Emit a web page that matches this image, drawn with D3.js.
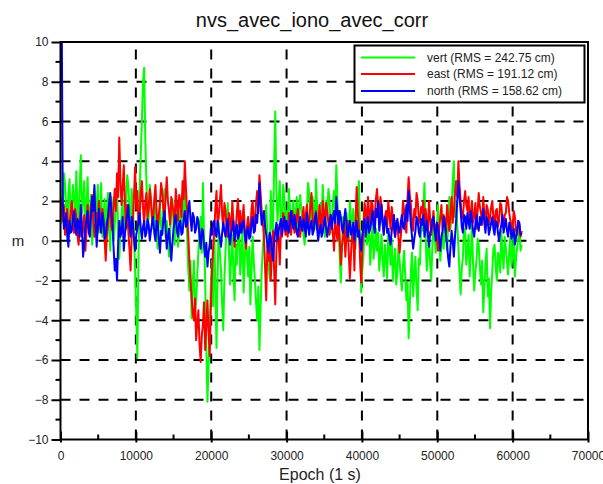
<!DOCTYPE html>
<html lang="fr">
<head>
<meta charset="UTF-8">
<title>nvs_avec_iono_avec_corr</title>
<script src="https://d3js.org/d3.v7.min.js"></script>
<style>
  body { margin: 0; background: #fff; }
  svg { display: block; font-family: "Liberation Sans", Arial, sans-serif; }
</style>
</head>
<body>
<div id="chart"></div>
<script>
// epochs sampled every 150 s, 0 .. 61200
const epochs = d3.range(0, 61201, 150);

const vert = [
  2.6, 0.9, 1.2, 3.4, 2.9, 1.6, 0.8, 2.4, 3.1, 0.6, 1.5, 2.8, 2.2, 0.9, 3.5, 1.8, 1.0, 2.7, 4.3, 1.4,
  2.0, 3.0, 0.5, 1.7, 3.2, 0.6, 1.4, 2.3, -0.2, 1.0, 2.6, 0.9, 1.8, 2.8, 0.4, 1.3, 2.9, 0.2, 1.1, 2.1,
  0.2, 1.5, 2.4, 0.7, -0.5, 2.2, 1.6, 0.0, 0.8, 1.9, 2.7, 0.4, -0.9, 0.6, 1.2, 2.1, 0.1, 1.0, 2.0, 3.3,
  2.8, 1.4, 0.5, 2.6, 1.9, 0.2, -1.5, -3.6, -5.9, -0.8, 2.5, 4.3, 6.0, 8.0, 8.7, 5.1, 3.0, 0.6, 1.2, 2.8,
  2.2, 1.1, 0.6, 2.0, 1.5, 0.4, -0.4, 0.9, 1.8, 0.7, 0.3, 1.7, 2.6, 0.2, 1.0, 0.1, -0.8, 0.5, 1.4, 2.1,
  0.8, -0.2, 2.0, 0.9, -0.3, 0.6, 1.5, 0.5, 2.4, 1.2, 3.2, 1.6, 0.4, -1.4, -2.5, -1.0, -3.9, -2.2, -1.0, -3.6,
  -3.0, -1.8, -0.5, 0.4, 1.2, -0.6, 2.9, 0.2, -2.0, -5.2, -8.1, -6.3, -4.5, -2.2, -1.0, -3.3, 0.5, -2.4, -5.4, -1.8,
  0.9, -0.6, -1.5, -3.2, -4.5, -1.9, -0.5, 0.8, 1.9, -0.4, -2.2, -0.9, 0.3, -1.6, -3.0, -0.2, -1.2, 0.4, 1.0, -1.7,
  -0.8, 0.6, -2.6, -1.0, 0.4, -0.7, -1.8, -0.3, -3.2, -1.4, 0.2, -1.1, -2.0, -3.1, -4.0, -2.3, -5.5, -3.4, -1.5, -0.4,
  0.5, 1.2, 1.8, 0.3, -1.0, -1.9, 2.5, 1.0, 0.2, 3.8, 6.5, 2.4, 1.0, 2.1, 3.0, 0.4, 0.8, 2.8, 2.2, 0.7,
  1.5, 0.8, 2.6, 1.7, 0.6, 1.4, 2.0, 0.7, 1.2, 2.2, 0.4, 1.5, 2.3, 1.6, 1.0, 0.3, -0.2, 0.9, 1.6, 2.9,
  2.4, 1.3, 0.9, 2.2, 1.7, 0.6, 3.1, 1.8, 0.5, 1.1, 1.9, 0.8, 2.8, 1.5, 0.2, 2.0, 1.3, 2.6, 2.1, 0.4,
  1.0, 1.9, 2.5, 1.3, 3.8, 2.0, 0.6, -0.8, -2.1, -0.3, 1.2, 0.2, -0.5, 1.4, 0.8, 0.0, 2.0, 1.1, 0.3, 1.6,
  0.5, -0.4, 1.4, 2.1, 3.0, 0.2, -2.6, -1.5, -0.8, 0.9, 1.5, -0.2, 0.2, 0.9, -1.2, -0.1, 0.8, -0.9, -0.3, 0.6,
  -0.5, 0.4, -1.5, -0.6, 0.3, -1.0, -1.8, -0.2, -0.9, -1.9, 0.6, -0.3, -1.2, 0.1, -2.0, -1.1, -0.4, -2.2, -1.6, -0.2,
  -1.0, -1.9, -2.5, -1.2, -0.5, -1.8, -3.0, -2.1, -4.9, -3.3, -1.5, -0.6, -2.8, -1.7, -0.8, -2.4, -3.5, -0.9, -1.2, 0.8,
  0.5, 1.6, 2.9, 0.4, -1.5, -0.6, 0.2, -1.1, -2.0, -0.2, 1.0, 0.1, -0.6, 0.7, 1.8, 0.3, -1.0, -0.2, 0.4, -0.4,
  1.2, 0.2, -0.5, 0.9, 2.2, 0.6, 1.5, 3.0, 4.0, 1.2, 2.0, 0.8, -0.3, -1.6, -2.7, -1.4, -0.8, 0.6, 0.5, -1.2,
  -0.5, 0.3, -1.8, -0.7, 0.8, -1.2, -2.5, -1.6, -1.0, 0.1, -0.2, -1.3, -2.2, -1.0, -3.6, -2.3, -1.2, -0.4, -2.8, -1.9,
  -4.4, -2.6, -1.5, -0.4, -0.2, -1.3, -2.0, -0.6, -0.8, -1.6, 0.5, -0.7, -1.4, 0.2, -0.4, -1.1, -1.7, -0.5, 0.2, -1.3,
  -0.6, 0.4, -1.8, -0.9, -0.3, 0.2, 0.6, -0.5, -0.2
];

const east = [
  2.2, 1.5, 1.0, 1.8, 0.3, 0.9, 1.6, 0.4, 0.8, 1.4, 2.0, 1.1, 0.4, 1.6, 1.2, 0.3, -0.2, 0.7, 1.5, 0.2,
  0.6, 1.3, -0.5, 0.5, 1.8, 0.6, 0.9, 1.7, 2.3, 1.0, 0.2, 0.8, 1.4, 0.5, 2.0, 1.2, 0.7, 1.6, 1.1, 0.1,
  -1.0, 0.2, 0.8, 1.4, 1.9, 0.7, 0.5, 1.8, 2.6, 1.5, 3.4, 2.2, 5.2, 3.0, 1.8, 2.7, 3.8, 1.9, 0.6, 1.8,
  0.5, -0.4, -1.5, 0.2, 1.0, 2.2, 3.7, 1.6, 2.5, 0.8, 1.2, 2.4, 3.0, 1.7, 0.8, 1.9, 2.4, 1.2, 1.6, 2.6,
  2.0, 1.0, 1.2, 2.1, 2.8, 1.5, 0.6, 1.3, 1.9, 2.9, 2.5, 1.6, 1.0, 2.2, 3.2, 2.0, 1.5, 0.8, 2.2, 1.8,
  1.4, 0.9, 2.6, 1.8, 1.0, 2.3, 2.0, 1.2, 3.0, 2.1, 4.0, 2.6, 1.5, 0.3, -1.0, -2.0, -2.8, -3.7, -4.0, -2.9,
  -5.0, -4.1, -3.5, -5.2, -6.1, -4.8, -4.2, -3.1, -5.5, -4.3, -3.0, -4.6, -5.8, -3.4, -1.5, -0.4, 0.5, 1.6, 2.5, 0.8,
  1.2, 2.0, 2.8, 1.3, 0.6, 1.9, 1.5, 0.6, 0.2, 1.4, 1.0, 0.4, 2.0, 0.9, -0.3, 0.5, 1.4, 2.1, 0.7, 1.5,
  0.5, 1.1, 1.8, 0.6, -0.4, 0.7, 1.2, 0.3, 0.6, 1.6, 2.0, 0.8, 1.0, 1.9, 2.5, 1.4, 3.3, 2.4, 1.5, 0.9,
  0.2, -1.4, -3.0, -0.2, -1.0, 0.3, -2.0, -0.6, 0.5, -1.5, -3.2, -0.5, 0.8, 0.1, -1.2, 0.6, 0.2, 1.4, 1.0, 0.3,
  0.8, 0.2, 1.4, 0.9, 0.3, 1.5, 1.0, 0.4, 0.6, 1.2, 1.6, 0.7, 0.2, 0.8, 1.1, 1.7, 0.5, 1.3, 1.8, 0.6,
  1.0, 1.7, 2.4, 1.3, 0.6, 1.1, 1.5, 0.7, 0.4, 1.8, 1.2, 0.5, 2.0, 1.4, 0.8, 1.9, 1.5, 0.9, 0.3, 1.3,
  1.0, 0.3, -0.5, 1.1, 0.5, 0.0, 1.5, 0.2, -1.2, -0.3, 0.2, 0.9, -0.8, 0.4, 1.0, -0.6, -1.9, -0.7, 0.4, 0.6,
  -1.5, 0.9, 2.7, 1.5, 0.6, -0.9, -2.1, -0.4, 0.8, 1.9, 1.5, 0.7, 2.2, 1.4, 0.9, 2.0, 1.8, 0.8, 1.2, 2.1,
  2.6, 1.7, 1.0, 2.2, 1.8, 0.9, 0.4, 1.2, 1.5, 0.7, 2.0, 1.3, 0.6, 1.7, 1.2, 0.5, 0.2, 1.0, 0.9, 0.1,
  -0.6, 0.2, 0.8, 2.0, 1.5, 0.6, 0.4, 2.1, 3.2, 2.3, 1.8, 0.9, 0.5, 1.6, 1.2, 2.4, 2.0, 1.1, 0.9, 1.7,
  1.4, 2.0, 0.6, 1.6, 1.0, 0.4, 2.0, 1.1, 0.3, 0.9, 1.5, 0.5, 0.8, 0.1, -0.5, 0.6, 1.2, 1.8, 0.6, 1.3,
  1.0, 0.4, 1.8, 1.1, 0.5, 1.4, 2.2, 0.9, 1.5, 2.4, 3.0, 2.2, 4.0, 2.8, 2.0, 1.1, 1.2, 2.0, 2.5, 1.8,
  1.5, 2.2, 0.8, 1.4, 2.0, 0.9, 1.2, 1.9, 0.6, 1.5, 2.4, 1.7, 1.4, 0.8, 2.2, 1.3, 0.9, 1.8, 1.6, 0.8,
  1.2, 1.7, 2.0, 1.1, 0.8, 1.5, 1.6, 0.7, 1.0, 1.9, 1.8, 1.0, 0.6, 1.3, 1.4, 2.2, 2.0, 1.4, 1.0, 0.4,
  0.8, 1.5, 1.2, 0.5, 0.3, 1.0, 0.9, 0.2, 0.5
];

const north = [
  14.0, 12.0, 2.0, 0.6, 0.8, 1.4, 0.2, -0.3, 1.0, 0.4, 0.5, 1.2, 1.5, 0.7, 0.3, 1.1, 0.9, 0.2, 1.8, 0.6,
  -0.8, -0.2, 0.6, 1.1, 1.5, 0.4, 0.2, 1.3, 2.2, 1.5, 2.8, 1.0, -0.3, 0.7, 1.6, 0.8, 0.4, 1.4, 1.0, 0.1,
  0.3, 0.9, 1.2, 1.9, 2.4, 1.5, 0.8, -0.4, -1.5, -0.9, -2.0, -0.2, 1.0, 0.2, 0.5, 1.2, -0.5, 0.3, 0.9, 1.3,
  1.8, 0.8, 0.2, 1.2, 0.9, 0.1, -0.5, 0.3, 0.6, 1.0, 1.4, 0.6, 0.1, 0.7, 1.0, 0.2, 0.4, 1.1, 0.8, 0.0,
  0.5, 0.9, 1.2, 0.4, 0.0, 1.0, 0.8, 0.1, -0.6, 0.5, 0.3, 1.1, 1.5, 0.6, -0.4, 0.2, 0.6, -0.2, -1.0, -0.1,
  0.6, 1.0, 1.3, 0.5, 0.2, 0.9, 1.0, 0.3, 0.4, 1.1, 1.5, 0.7, 0.8, 1.6, 2.0, 1.1, 0.5, 1.4, 1.2, 0.4,
  0.6, 1.2, 1.0, 0.2, -0.4, 0.6, 0.5, -0.3, -0.8, -0.1, -1.3, -0.6, -0.2, 0.6, 0.3, 0.9, 1.0, 0.4, 0.2, 1.0,
  0.5, 0.1, -0.3, 0.4, 0.9, 0.5, 0.2, 0.8, 1.1, 0.3, -0.2, 0.4, 0.6, 1.0, 0.0, 0.5, 0.8, 0.1, 0.3, 0.9,
  0.4, 0.8, 1.0, 0.3, -0.1, 0.5, 0.7, 0.1, 0.2, 0.9, 1.2, 0.4, 0.5, 1.3, 0.9, 1.9, 2.9, 1.6, 0.8, 1.2,
  1.5, 0.7, 0.3, -0.2, -0.6, 0.4, 0.2, -0.5, -1.0, -0.1, 0.5, 0.9, 0.0, 0.5, 0.8, 1.1, 0.3, 0.8, 1.2, 0.5,
  1.0, 0.6, 0.4, 1.0, 1.5, 0.9, 0.6, 1.3, 0.9, 0.4, 0.2, 0.8, 1.2, 0.7, 0.5, 1.1, 0.8, 0.2, 1.4, 0.8,
  0.3, 0.8, 1.0, 0.3, 0.5, 1.1, 1.4, 0.6, 0.0, 0.5, 0.8, 0.2, 0.4, 0.9, 1.2, 0.6, 0.2, 0.7, 0.9, 1.3,
  0.6, 1.1, 1.5, 0.9, 2.2, 1.4, 0.8, 1.5, 1.2, 0.6, 0.4, 1.1, 1.6, 0.8, 0.2, 0.6, 1.0, 0.3, 0.5, 0.9,
  0.0, 0.6, 1.0, 0.2, 0.5, 0.0, -0.5, 0.3, 0.8, 1.1, 0.2, 0.7, 1.2, 0.4, 0.6, 1.0, 1.5, 0.8, 0.4, 1.6,
  1.2, 2.0, 0.5, 1.1, 1.8, 0.9, 0.3, 1.2, 1.0, 0.4, 0.6, 0.1, -0.2, 0.5, 0.8, 1.3, 0.2, 0.7, 1.1, 0.6,
  0.4, 0.9, 1.3, 0.7, 0.6, 1.2, 1.8, 1.0, 2.5, 1.6, 0.8, 0.2, -0.4, 0.1, 0.5, 1.2, 1.0, 0.4, 0.2, 1.1,
  0.8, 1.3, 0.2, 0.6, 1.0, 0.3, -0.3, 0.4, 0.6, 1.1, 1.2, 0.5, 0.0, 0.9, 0.7, 0.1, -0.5, 0.2, 0.5, 1.2,
  0.9, 0.3, -0.2, -0.9, -1.3, -0.3, 0.5, 0.0, -0.8, 0.2, 1.0, 2.0, 3.0, 2.2, 1.5, 0.7, 0.4, 1.3, 1.2, 0.6,
  1.4, 0.9, 0.6, 1.5, 1.0, 0.5, 0.2, 0.8, 1.3, 0.7, 0.5, 1.2, 0.8, 1.1, 1.6, 0.9, 0.4, 1.2, 1.0, 0.3,
  0.6, 0.9, 1.2, 0.6, 0.3, 1.0, 0.9, 0.4, 0.0, 0.5, 0.8, 1.3, 0.4, 0.8, 1.1, 0.5, 0.2, 0.9, 0.7, 0.1,
  0.3, 0.6, -0.2, 0.2, 0.5, 1.0, 0.8, 0.3, 0.4
];

const seriesNames = ["vert", "east", "north"];
const seriesRms = [242.75, 191.12, 158.62];
const seriesColors = ["#00ff00", "#ff0000", "#0000ff"];
const xTicks = [0, 10000, 20000, 30000, 40000, 50000, 60000, 70000];
const yTicks = [-10, -8, -6, -4, -2, 0, 2, 4, 6, 8, 10];

const width = 603, height = 484;
const plotLeft = 60.5, plotRight = 588, plotTop = 42, plotBottom = 439.5;

const svg = d3.select("#chart").append("svg")
  .attr("width", width)
  .attr("height", height);

const x = d3.scaleLinear().domain([0, 70000]).range([plotLeft, plotRight]);
const y = d3.scaleLinear().domain([-10, 10]).range([plotBottom, plotTop]);

// dashed grid
const grid = svg.append("g")
  .attr("stroke", "#000")
  .attr("stroke-width", 2)
  .attr("stroke-dasharray", "10,9");
grid.selectAll("line.gx")
  .data(xTicks.filter(d => d > 0 && d < 70000))
  .join("line")
  .attr("class", "gx")
  .attr("x1", d => x(d)).attr("x2", d => x(d))
  .attr("y1", plotBottom).attr("y2", plotTop);
grid.selectAll("line.gy")
  .data(yTicks.filter(d => d > -10 && d < 10))
  .join("line")
  .attr("class", "gy")
  .attr("x1", plotLeft).attr("x2", plotRight)
  .attr("y1", d => y(d)).attr("y2", d => y(d));

// data
svg.append("clipPath").attr("id", "plotclip")
  .append("rect")
  .attr("x", plotLeft).attr("y", plotTop)
  .attr("width", plotRight - plotLeft).attr("height", plotBottom - plotTop);

const line = d3.line()
  .x((d, i) => x(epochs[i]))
  .y(d => y(d));

const plot = svg.append("g").attr("clip-path", "url(#plotclip)");
[vert, east, north].forEach((s, k) => {
  plot.append("path")
    .datum(s)
    .attr("fill", "none")
    .attr("stroke", seriesColors[k])
    .attr("stroke-width", 2)
    .attr("stroke-linejoin", "round")
    .attr("d", line);
});

// axes
const xAxis = d3.axisBottom(x)
  .tickValues(xTicks)
  .tickFormat(d3.format("d"))
  .tickSizeInner(-8)
  .tickSizeOuter(0)
  .tickPadding(12);
const gx = svg.append("g")
  .attr("transform", `translate(0,${plotBottom})`)
  .call(xAxis);
gx.select(".domain").remove();
gx.selectAll(".tick line").attr("stroke-width", 2).attr("y2", -8).attr("y1", 3);
gx.selectAll(".tick text")
  .attr("font-size", 12)
  .attr("font-family", "Liberation Sans, Arial, sans-serif")
  .attr("fill", "#222");

const xMinor = svg.append("g").attr("stroke", "#000").attr("stroke-width", 2);
xMinor.selectAll("line")
  .data(d3.range(5000, 70000, 10000))
  .join("line")
  .attr("x1", d => x(d)).attr("x2", d => x(d))
  .attr("y1", plotBottom).attr("y2", plotBottom - 5);

const yAxis = d3.axisLeft(y)
  .tickValues(yTicks)
  .tickSizeInner(9)
  .tickSizeOuter(0)
  .tickPadding(3);
const gy = svg.append("g")
  .attr("transform", `translate(${plotLeft},0)`)
  .call(yAxis);
gy.select(".domain").remove();
gy.selectAll(".tick line").attr("stroke-width", 2);
gy.selectAll(".tick text")
  .attr("font-size", 12)
  .attr("font-family", "Liberation Sans, Arial, sans-serif")
  .attr("fill", "#222");

const yMinor = svg.append("g").attr("stroke", "#000").attr("stroke-width", 2);
yMinor.selectAll("line")
  .data(d3.range(-9, 10, 2))
  .join("line")
  .attr("x1", plotLeft - 5).attr("x2", plotLeft)
  .attr("y1", d => y(d)).attr("y2", d => y(d));

// frame
svg.append("rect")
  .attr("x", plotLeft).attr("y", plotTop)
  .attr("width", plotRight - plotLeft).attr("height", plotBottom - plotTop)
  .attr("fill", "none")
  .attr("stroke", "#000")
  .attr("stroke-width", 2);

// titles
svg.append("text")
  .attr("x", 312).attr("y", 27)
  .attr("text-anchor", "middle")
  .attr("font-size", 20)
  .attr("fill", "#111")
  .text("nvs_avec_iono_avec_corr");

svg.append("text")
  .attr("x", 320).attr("y", 480)
  .attr("text-anchor", "middle")
  .attr("font-size", 16)
  .attr("fill", "#222")
  .text("Epoch (1 s)");

svg.append("text")
  .attr("x", 18).attr("y", (plotTop + plotBottom) / 2)
  .attr("text-anchor", "middle")
  .attr("dy", "0.35em")
  .attr("font-size", 15)
  .attr("fill", "#222")
  .text("m");

// legend
const lg = svg.append("g");
lg.append("rect")
  .attr("x", 354.5).attr("y", 45.5)
  .attr("width", 230).attr("height", 57)
  .attr("fill", "#fff")
  .attr("stroke", "#000")
  .attr("stroke-width", 2);
const rowsY = [57.5, 74, 91];
seriesNames.forEach((name, k) => {
  lg.append("line")
    .attr("x1", 361).attr("x2", 415)
    .attr("y1", rowsY[k]).attr("y2", rowsY[k])
    .attr("stroke", seriesColors[k])
    .attr("stroke-width", 2);
  lg.append("text")
    .attr("x", 427).attr("y", rowsY[k])
    .attr("dy", "0.36em")
    .attr("font-size", 12)
    .attr("fill", "#222")
    .text(`${name} (RMS = ${seriesRms[k].toFixed(2)} cm)`);
});
</script>
</body>
</html>
